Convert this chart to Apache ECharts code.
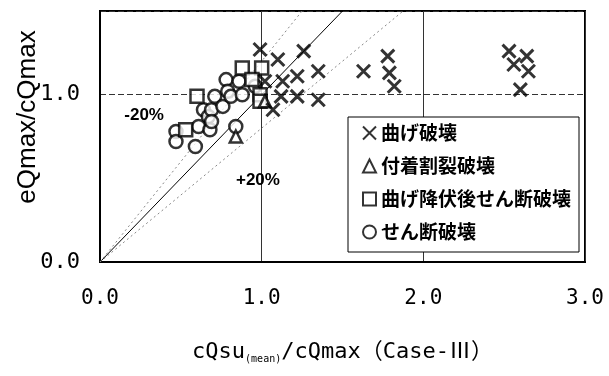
<!DOCTYPE html>
<html><head><meta charset="utf-8">
<script src="https://cdn.jsdelivr.net/npm/echarts@6/dist/echarts.min.js"></script>
<style>html,body{margin:0;padding:0;background:#fff}#c{width:609px;height:376px}</style>
</head><body><div id="c"></div>
<script>
// series names
const seriesNames = ['曲げ破壊', '付着割裂破壊', '曲げ降伏後せん断破壊', 'せん断破壊'];
// 曲げ破壊 (x marks)
const flexure = [
  [0.99,1.27],[1.10,1.21],[1.26,1.26],[1.22,1.11],[1.35,1.14],[1.13,1.08],[1.02,1.08],
  [1.12,0.99],[1.22,0.99],[1.35,0.97],[1.07,0.91],
  [1.63,1.14],[1.78,1.23],[1.79,1.13],[1.82,1.05],
  [2.53,1.26],[2.64,1.23],[2.56,1.18],[2.65,1.14],[2.60,1.03]
];
// 付着割裂破壊 (triangles)
const bondSplit = [[0.84,0.75],[1.02,0.96]];
// 曲げ降伏後せん断破壊 (squares)
const flexShear = [[0.53,0.79],[0.60,0.99],[0.88,1.16],[1.00,1.16],[0.94,1.09],[0.99,1.00],[0.99,0.96]];
// せん断破壊 (circles)
const shear = [
  [0.47,0.78],[0.47,0.72],[0.59,0.69],[0.61,0.81],[0.64,0.91],[0.67,0.87],[0.68,0.79],
  [0.69,0.91],[0.71,0.99],[0.69,0.84],[0.76,0.93],[0.78,1.09],[0.79,1.02],[0.81,0.99],
  [0.86,1.08],[0.88,1.00],[0.84,0.81],[0.96,1.05]
];
// reference lines y = x, y = 1.2x, y = 0.8x
const lineEqual = [[0,0],[1.5,1.5]];
const lineMinus = [[0,0],[1.25,1.5]];
const linePlus = [[0,0],[1.875,1.5]];
// annotations
const annotations = [{text:'-20%', pos:[0.276,0.874]}, {text:'+20%', pos:[0.98,0.487]}];
// ticks
const xTicks = {min:0, max:3, interval:1};
const yTicks = {min:0, max:1.5, interval:1};

const chart = echarts.init(document.getElementById('c'));
const mono = 'DejaVu Sans Mono, Noto Sans CJK JP';
const jp = 'Noto Sans CJK JP';
const mk = {color:'#fff', borderColor:'#000', borderWidth:2.5};
const xPath = 'path://M0,0L10,10M10,0L0,10';

chart.setOption({
  animation:false,
  backgroundColor:'#fff',
  grid:{left:100, right:24, top:11, bottom:114, show:true, borderColor:'#000', borderWidth:2, backgroundColor:'transparent'},
  xAxis:{type:'value', min:xTicks.min, max:xTicks.max, interval:xTicks.interval,
    axisLine:{show:true, lineStyle:{color:'#000', width:2}}, axisTick:{show:false},
    axisLabel:{margin:26, fontSize:21, fontFamily:mono, color:'#000', formatter:v=>v.toFixed(1)},
    splitLine:{show:true, lineStyle:{color:'#333', width:1}},
    name:'{a|cQsu}{b|(mean)}{a|/cQmax（Case-Ⅲ）}', nameLocation:'middle', nameGap:78,
    nameTextStyle:{rich:{a:{fontSize:22, fontFamily:mono, color:'#000'}, b:{fontSize:10, fontFamily:mono, color:'#000', padding:[14,0,0,0]}}}
  },
  yAxis:{type:'value', min:yTicks.min, max:yTicks.max, interval:yTicks.interval,
    axisLine:{show:true, lineStyle:{color:'#000', width:2}}, axisTick:{show:false},
    axisLabel:{margin:20, fontSize:22, fontFamily:mono, color:'#000', formatter:v=>(v===0||v===1)?v.toFixed(1):''},
    splitLine:{show:true, lineStyle:{color:'#333', width:1, type:[6,3]}}
  },
  legend:{data:seriesNames, orient:'vertical', left:348, top:117, backgroundColor:'#fff',
    borderColor:'#000', borderWidth:1, padding:[6,8,10,14], itemGap:13, itemWidth:13, itemHeight:13,
    textStyle:{fontSize:19, fontFamily:jp, color:'#000', lineHeight:20, fontWeight:'bold'}},
  graphic:[{type:'text', x:28, y:117, rotation:Math.PI/2,
    style:{text:'eQmax/cQmax', font:'26px "Liberation Sans"', fill:'#000', align:'center', verticalAlign:'middle'}}],
  series:[
    {type:'line', data:lineEqual, symbol:'none', silent:true, lineStyle:{color:'#000', width:1}, z:1},
    {type:'line', data:lineMinus, symbol:'none', silent:true, lineStyle:{color:'#888', width:1, type:[2,3]}, z:1},
    {type:'line', data:linePlus, symbol:'none', silent:true, lineStyle:{color:'#888', width:1, type:[2,3]}, z:1},
    {name:seriesNames[3], type:'scatter', data:shear, symbol:'circle', symbolSize:13, itemStyle:mk, z:3},
    {name:seriesNames[2], type:'scatter', data:flexShear, symbol:'rect', symbolSize:13, itemStyle:mk, z:4},
    {name:seriesNames[1], type:'scatter', data:bondSplit, symbol:'triangle', symbolSize:12, itemStyle:mk, z:4},
    {name:seriesNames[0], type:'scatter', data:flexure, symbol:xPath, symbolSize:13, itemStyle:{color:'#fff', borderColor:'#000', borderWidth:3}, z:5},
    {type:'scatter', silent:true, symbolSize:1, itemStyle:{color:'#000', opacity:0},
      data:annotations.map(a=>({value:a.pos, name:a.text})),
      label:{show:true, position:[0,0], align:'center', verticalAlign:'middle', formatter:p=>p.name,
        fontSize:17, fontWeight:'bold', fontFamily:'Liberation Sans', color:'#000', textBorderWidth:0, opacity:1}, z:6}
  ]
});
</script></body></html>
